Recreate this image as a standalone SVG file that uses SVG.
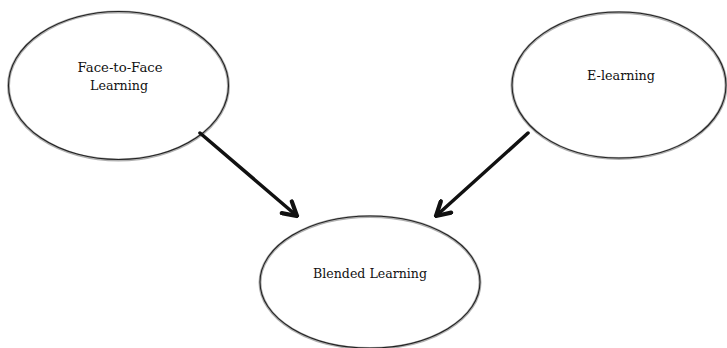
<svg xmlns="http://www.w3.org/2000/svg" width="727" height="348" viewBox="0 0 727 348">
<defs>
<style>
.bg{fill:#ffffff}
.halo{fill:#ffffff;stroke:#b0b0b0;stroke-width:3}
.edge{fill:none;stroke:#222222;stroke-width:1.1}
.lbl{font-family:"DejaVu Serif","Liberation Serif",serif;font-size:13px;fill:#111111;text-anchor:middle}
.conn{stroke:#111111;stroke-width:3.5;fill:none;stroke-linecap:round}
</style>
<marker id="head" viewBox="0 0 10 10" refX="9" refY="5" markerWidth="5.5" markerHeight="5.5" orient="auto" markerUnits="strokeWidth">
<polyline points="2,1 9,5 2,9" fill="none" stroke="#111111" stroke-width="2.2" stroke-linejoin="miter" stroke-linecap="round"/>
</marker>
</defs>
<rect class="bg" x="0" y="0" width="727" height="348"/>
<g id="face-to-face">
<ellipse class="halo" cx="118.5" cy="86" rx="110" ry="74"/>
<ellipse class="edge" cx="118.5" cy="85.5" rx="110" ry="74"/>
<text class="lbl" x="120" y="72" textLength="85" lengthAdjust="spacingAndGlyphs">Face-to-Face</text>
<text class="lbl" x="119" y="90" textLength="58" lengthAdjust="spacingAndGlyphs">Learning</text>
</g>
<g id="e-learning">
<ellipse class="halo" cx="619" cy="85.5" rx="107" ry="73"/>
<ellipse class="edge" cx="619" cy="85" rx="107" ry="73"/>
<text class="lbl" x="621" y="80" textLength="68" lengthAdjust="spacingAndGlyphs">E-learning</text>
</g>
<g id="blended">
<ellipse class="halo" cx="370" cy="282.5" rx="110" ry="66"/>
<ellipse class="edge" cx="370" cy="282" rx="110" ry="66"/>
<text class="lbl" x="370" y="278" textLength="114" lengthAdjust="spacingAndGlyphs">Blended Learning</text>
</g>
<g id="connectors">
<line class="conn" x1="200" y1="133" x2="297" y2="216" marker-end="url(#head)"/>
<line class="conn" x1="528" y1="133" x2="436" y2="216" marker-end="url(#head)"/>
</g>
</svg>
